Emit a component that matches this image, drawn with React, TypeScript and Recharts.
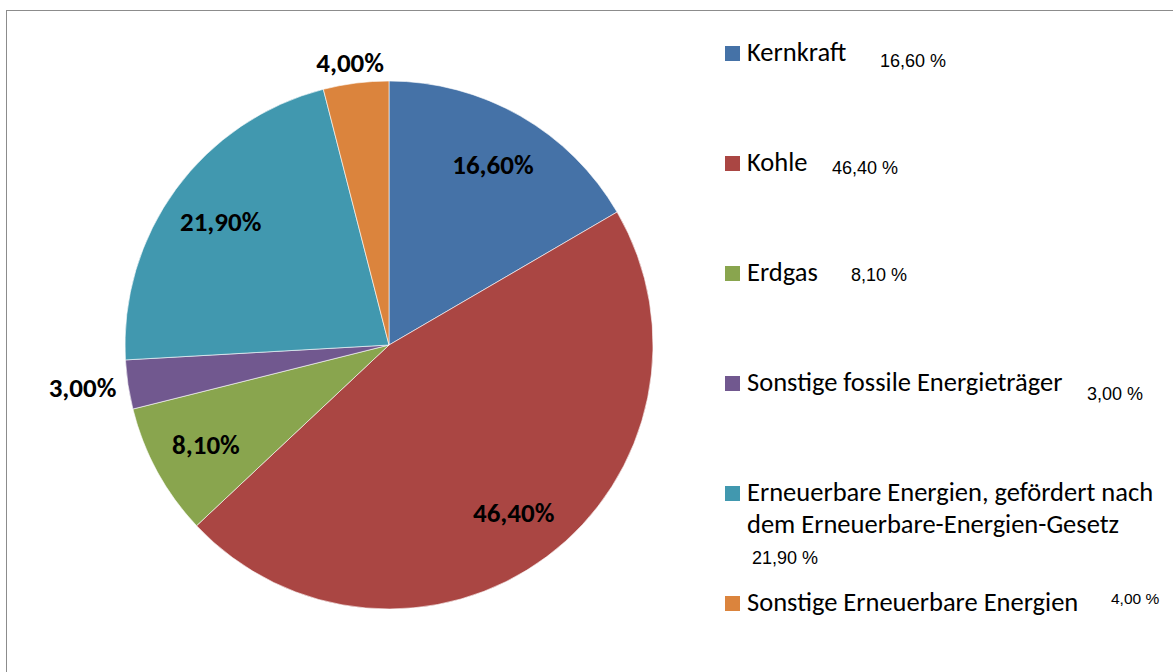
import { Cell, Legend, Pie, PieChart } from "recharts";

const sources = [
  "Kernkraft",
  "Kohle",
  "Erdgas",
  "Sonstige fossile Energieträger",
  "Erneuerbare Energien, gefördert nach dem Erneuerbare-Energien-Gesetz",
  "Sonstige Erneuerbare Energien",
];
const shares = [16.6, 46.4, 8.1, 3.0, 21.9, 4.0];
const colors = ["#4572A7", "#AA4643", "#89A54E", "#71588F", "#4198AF", "#DB843D"];

const data = sources.map((name, i) => ({ name, value: shares[i] }));

const RAD = Math.PI / 180;
const fmt = (v: number) => v.toFixed(2).replace(".", ",");
const calibri = "Carlito, Calibri, Lato, sans-serif";

// legend row placement (page coords), values sit in loose text boxes
const legendLeft = 718;
const rows = [
  { y: 46, vx: 880, vy: 67, vs: 18 },
  { y: 156, vx: 832, vy: 174, vs: 18 },
  { y: 266, vx: 851, vy: 281, vs: 18 },
  { y: 376, vx: 1087, vy: 400, vs: 18 },
  { y: 486, vx: 752, vy: 564, vs: 18 },
  { y: 596, vx: 1111, vy: 604, vs: 15.5 },
];

function wrap(name: string) {
  if (name.length < 40) return [name];
  const cut = name.indexOf(" dem ");
  return [name.slice(0, cut), name.slice(cut + 1)];
}

function renderLabel(props: any) {
  const { cx, cy, midAngle, outerRadius, value } = props;
  const cos = Math.cos(-midAngle * RAD);
  const sin = Math.sin(-midAngle * RAD);
  let x: number;
  let y: number;
  if (value < 5) {
    // outside: box edge sits just past the rim
    const r = outerRadius + 10;
    x = cx + r * cos + cos * 36;
    y = cy + r * sin + sin * 11;
  } else {
    const r = outerRadius * 0.79;
    x = cx + r * cos;
    y = cy + r * sin;
  }
  return (
    <text
      x={x}
      y={y}
      textAnchor="middle"
      dominantBaseline="central"
      fill="#000"
      fontSize={27}
      fontWeight="bold"
      fontFamily={calibri}
    >
      {fmt(value) + "%"}
    </text>
  );
}

function renderLegend() {
  return (
    <svg width={455} height={640} style={{ display: "block" }}>
      {data.map((d, i) => {
        const row = rows[i];
        const lines = wrap(d.name);
        return (
          <g key={d.name}>
            <rect x={725 - legendLeft} y={row.y} width={15} height={15} fill={colors[i]} />
            {lines.map((ln, j) => (
              <text
                key={j}
                x={747 - legendLeft}
                y={row.y + 15 + j * 32}
                fontSize={26.5}
                fill="#000"
                fontFamily={calibri}
              >
                {ln}
              </text>
            ))}
            <text
              x={row.vx - legendLeft}
              y={row.vy}
              fontSize={row.vs}
              fill="#000"
              fontFamily="Arial, 'Liberation Sans', sans-serif"
            >
              {fmt(d.value) + " %"}
            </text>
          </g>
        );
      })}
    </svg>
  );
}

export default function App() {
  return (
    <div style={{ position: "absolute", left: 0, top: 0, width: 1173, height: 672, overflow: "hidden", background: "#fff" }}>
      <div
        style={{
          position: "absolute",
          left: 6,
          top: 10,
          width: 1200,
          height: 700,
          border: "1.5px solid #8c8c8c",
        }}
      />
      <div style={{ position: "absolute", left: 0, top: 0 }}>
        <PieChart width={1173} height={672} margin={{ top: 0, right: 0, bottom: 0, left: 0 }}>
          <Pie
            data={data}
            dataKey="value"
            nameKey="name"
            cx={389}
            cy={345}
            outerRadius={264}
            startAngle={90}
            endAngle={-270}
            stroke="#ffffff"
            strokeWidth={0.6}
            label={renderLabel}
            labelLine={false}
            isAnimationActive={false}
          >
            {data.map((d, i) => (
              <Cell key={d.name} fill={colors[i]} />
            ))}
          </Pie>
          <Legend
            content={renderLegend}
            layout="vertical"
            align="right"
            verticalAlign="top"
            wrapperStyle={{ left: legendLeft, top: 0, right: "auto", width: 455, height: 640 }}
          />
        </PieChart>
      </div>
    </div>
  );
}
